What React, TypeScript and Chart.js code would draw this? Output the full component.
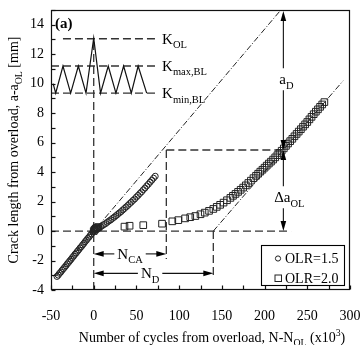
import React, { useEffect, useRef } from 'react';
import { Chart, registerables } from 'chart.js';

Chart.register(...registerables);

const FONT = '"Liberation Serif", "Times New Roman", serif';

// ---- axes ----
const xMin = -50;
const xMax = 300;
const yMin = -4;
const yMax = 15;
const xTickStep = 25;
const xLabelEvery = 50;
const yTickStep = 1;
const yLabelEvery = 2;

const seriesLabels = ['OLR=1.5', 'OLR=2.0'];

// ---- OLR = 1.5 (circles) ----
const olr15X = [
  -43, -41.5, -40, -38.5, -37, -35.5, -34, -32.5, -31, -29.5, -28, -26.5, -25, -23.5, -22,
  -20.5, -19, -17.5, -16, -14.5, -13, -11.5, -10, -8.5, -7, -5.5, -4, -2.5, -1,
  0, 0.5, 1, 1.5,
  2, 4, 6, 8, 10, 12, 14, 16, 18, 20, 22, 24, 26, 28, 30, 32, 34, 36,
  38, 40, 42, 44, 46, 48, 50, 52, 54, 56, 58, 60, 62, 64, 66, 68, 70, 72,
];
const olr15Y = [
  -3.08, -2.99, -2.87, -2.78, -2.66, -2.56, -2.45, -2.35, -2.23, -2.13, -2.02, -1.92, -1.8, -1.7, -1.58,
  -1.49, -1.37, -1.27, -1.15, -1.06, -0.94, -0.84, -0.72, -0.62, -0.5, -0.41, -0.29, -0.19, -0.07,
  0.02, 0.12, 0.2, 0.25,
  0.1, 0.15, 0.21, 0.29, 0.36, 0.44, 0.51, 0.6, 0.69, 0.76, 0.86, 0.94, 1.04, 1.13, 1.23, 1.32, 1.43, 1.53,
  1.64, 1.74, 1.86, 1.96, 2.08, 2.18, 2.31, 2.42, 2.55, 2.66, 2.8, 2.92, 3.06, 3.18, 3.32, 3.45, 3.59, 3.72,
];

// ---- OLR = 2.0 (squares) ----
const olr20X = [
  0, 1, 2, 3, 4, 5.5,
  36, 42, 58, 80, 92, 99,
  107, 113, 119, 125, 130, 135, 140, 144, 148, 152, 156, 160, 163, 166, 169, 172, 175, 178,
  181, 184, 187, 190, 192.5, 195, 197.5, 200, 202.5, 205, 207.5, 210, 212.5, 215, 217.5, 220,
  222.5, 225, 227.5, 230, 232.5, 235, 237.5, 240, 242.5, 245, 247.5, 250, 252.5, 255, 257.5, 260,
  262.5, 265, 267.5, 270,
];
const olr20Y = [
  0.0, 0.08, 0.14, 0.2, 0.24, 0.27,
  0.3, 0.36, 0.4, 0.5, 0.66, 0.74,
  0.86, 0.94, 1.02, 1.14, 1.25, 1.37, 1.5, 1.64, 1.78, 1.93, 2.09, 2.25, 2.39, 2.52, 2.66, 2.8, 2.95, 3.1,
  3.26, 3.42, 3.59, 3.75, 3.89, 4.03, 4.16, 4.3, 4.44, 4.58, 4.71, 4.85, 5.0, 5.15, 5.3, 5.45,
  5.61, 5.78, 5.94, 6.1, 6.26, 6.43, 6.59, 6.75, 6.91, 7.08, 7.24, 7.4, 7.58, 7.75, 7.93, 8.1,
  8.26, 8.43, 8.59, 8.75,
];

// ---- inset loading waveform ----
const waveX = [-47.5, -44.5, -36, -27, -18, -9, 0, 8, 17, 26, 35, 44, 52, 62];
const waveY = [10.0, 9.36, 11.2, 9.36, 11.2, 9.36, 13.1, 9.36, 11.2, 9.36, 11.2, 9.36, 11.2, 9.36];

// ---- reference levels / guide lines ----
const kLevels = [13.05, 11.2, 9.36];
const kLabelMain = ['K', 'K', 'K'];
const kLabelSub = ['OL', 'max,BL', 'min,BL'];
const kOlLineX = [-36, 74];
const kBandLineX = [-50, 74];
const zeroLineX = [-50, 231];
const nOlLineY = [-4, 13.1];
const nCaX = 85;
const nDX = 140;
const crossX = 222;
const crossY = 5.5;
const fit1X = [-45, 219];
const fit1Y = [-3.1, 15];
const fit2X = [140, 292];
const fit2Y = [0, 10.2];

type Seg = [string, number];

function richWidth(ctx: CanvasRenderingContext2D, segs: Seg[], size: number) {
  let w = 0;
  for (const [t, k] of segs) {
    ctx.font = `${k ? size * 0.7 : size}px ${FONT}`;
    w += ctx.measureText(t).width;
  }
  return w;
}

function drawRich(ctx: CanvasRenderingContext2D, segs: Seg[], x: number, y: number, size: number, align: string) {
  const w = richWidth(ctx, segs, size);
  let cx = align === 'left' ? x : align === 'center' ? x - w / 2 : x - w;
  const base = y + size * 0.33;
  ctx.textAlign = 'left';
  ctx.textBaseline = 'alphabetic';
  for (const [t, k] of segs) {
    ctx.font = `${k ? size * 0.7 : size}px ${FONT}`;
    const dy = k === 1 ? size * 0.3 : k === -1 ? -size * 0.42 : 0;
    ctx.fillText(t, cx, base + dy);
    cx += ctx.measureText(t).width;
  }
  return w;
}

function seg(ctx: CanvasRenderingContext2D, x1: number, y1: number, x2: number, y2: number) {
  ctx.beginPath();
  ctx.moveTo(x1, y1);
  ctx.lineTo(x2, y2);
  ctx.stroke();
}

function head(ctx: CanvasRenderingContext2D, x: number, y: number, dir: string) {
  const L = 10;
  const W = 2.8;
  ctx.beginPath();
  ctx.moveTo(x, y);
  if (dir === 'l') { ctx.lineTo(x + L, y - W); ctx.lineTo(x + L, y + W); }
  if (dir === 'r') { ctx.lineTo(x - L, y - W); ctx.lineTo(x - L, y + W); }
  if (dir === 'u') { ctx.lineTo(x - W, y + L); ctx.lineTo(x + W, y + L); }
  if (dir === 'd') { ctx.lineTo(x - W, y - L); ctx.lineTo(x + W, y - L); }
  ctx.closePath();
  ctx.fill();
}

const overlay = {
  id: 'overlay',
  afterDatasetsDraw(chart: any) {
    const { ctx, chartArea: a, scales } = chart;
    const xs = scales.x;
    const ys = scales.y;
    const px = (v: number) => xs.getPixelForValue(v);
    const py = (v: number) => ys.getPixelForValue(v);
    ctx.save();
    ctx.strokeStyle = '#111';
    ctx.fillStyle = '#111';
    ctx.lineWidth = 1.2;

    // frame
    const L = Math.round(a.left) + 0.5;
    const T = Math.round(a.top) + 0.5;
    const R = Math.round(a.right) - 0.5;
    const B = Math.round(a.bottom) - 0.5;
    ctx.strokeRect(L, T, R - L, B - T);

    // inward ticks
    xs.ticks.forEach((t: any) => {
      const x = Math.round(px(t.value)) + 0.5;
      seg(ctx, x, B, x, B - 4);
    });
    ys.ticks.forEach((t: any) => {
      const y = Math.round(py(t.value)) + 0.5;
      seg(ctx, L, y, L + 4, y);
    });

    // K labels
    ctx.fillStyle = '#000';
    kLevels.forEach((lv, i) => {
      drawRich(ctx, [[kLabelMain[i], 0], [kLabelSub[i], 1]], px(80), py(lv), 15, 'left');
    });

    // horizontal arrows
    ctx.lineWidth = 1.1;
    const hArrow = (x1: number, x2: number, y: number, segs: Seg[], cx: number) => {
      const w = richWidth(ctx, segs, 15);
      seg(ctx, x1 + 4, y, cx - w / 2 - 3, y);
      seg(ctx, cx + w / 2 + 3, y, x2 - 4, y);
      head(ctx, x1, y, 'l');
      head(ctx, x2, y, 'r');
      drawRich(ctx, segs, cx, y, 15, 'center');
    };
    hArrow(px(0), px(nCaX), py(-1.55), [['N', 0], ['CA', 1]], px(42.5));
    hArrow(px(0), px(nDX), py(-2.87), [['N', 0], ['D', 1]], px(66));

    // vertical arrows
    const vx = px(crossX);
    const yTop = py(yMax);
    const yCross = py(crossY);
    const yZero = py(0);
    const aDy = py(10.3);
    seg(ctx, vx, yTop + 4, vx, aDy - 11);
    seg(ctx, vx, aDy + 11, vx, yCross - 4);
    head(ctx, vx, yTop + 1, 'u');
    head(ctx, vx, yCross, 'd');
    drawRich(ctx, [['a', 0], ['D', 1]], vx + 3, aDy, 15, 'center');

    const dAy = py(2.3);
    seg(ctx, vx, yCross + 4, vx, dAy - 11);
    seg(ctx, vx, dAy + 11, vx, yZero - 4);
    head(ctx, vx, yCross, 'u');
    head(ctx, vx, yZero, 'd');
    drawRich(ctx, [['\u0394a', 0], ['OL', 1]], vx + 6, dAy, 15, 'center');

    // (a)
    ctx.font = `bold 15px ${FONT}`;
    ctx.textAlign = 'left';
    ctx.textBaseline = 'alphabetic';
    ctx.fillText('(a)', a.left + 4, a.top + 18);

    // legend
    const lx1 = a.right - 89;
    const ly1 = a.bottom - 45;
    ctx.lineWidth = 1.1;
    ctx.strokeStyle = '#000';
    ctx.fillStyle = '#fff';
    ctx.fillRect(lx1, ly1, 83, 40);
    ctx.strokeRect(Math.round(lx1) + 0.5, Math.round(ly1) + 0.5, 83, 40);
    ctx.strokeStyle = '#222';
    ctx.lineWidth = 1;
    ctx.beginPath();
    ctx.arc(lx1 + 17, ly1 + 13.5, 2.6, 0, Math.PI * 2);
    ctx.stroke();
    ctx.strokeRect(lx1 + 14, ly1 + 30, 6.5, 6.5);
    ctx.fillStyle = '#000';
    ctx.font = `14px ${FONT}`;
    ctx.textBaseline = 'middle';
    ctx.fillText(seriesLabels[0], lx1 + 24, ly1 + 14);
    ctx.fillText(seriesLabels[1], lx1 + 24, ly1 + 34);

    // axis titles
    drawRich(ctx, [['Number of cycles from overload, N-N', 0], ['OL', 1], [' (x10', 0], ['3', -1], [')', 0]], 212, 337, 14, 'center');
    ctx.save();
    ctx.translate(13, (a.top + a.bottom) / 2);
    ctx.rotate(-Math.PI / 2);
    drawRich(ctx, [['Crack length from overload, a-a', 0], ['OL', 1], [' [mm]', 0]], 0, 0, 14, 'center');
    ctx.restore();

    ctx.restore();
  },
};

const zip = (xs: number[], ys: number[]) => xs.map((x, i) => ({ x, y: ys[i] }));

const dashed = [8, 4];
const dashDot = [6, 2, 1, 2];

function lineDs(points: { x: number; y: number }[], dash: number[], color = '#333', width = 1.3) {
  return {
    type: 'scatter',
    data: points,
    showLine: true,
    borderColor: color,
    borderWidth: width,
    borderDash: dash,
    pointRadius: 0,
    fill: false,
    tension: 0,
  };
}

export default function App() {
  const ref = useRef<HTMLCanvasElement>(null);
  useEffect(() => {
    if (!ref.current) return;
    const datasets: any[] = [
      {
        label: seriesLabels[0],
        data: zip(olr15X, olr15Y),
        pointStyle: 'circle',
        pointRadius: 3,
        borderWidth: 1,
        borderColor: '#222',
        backgroundColor: 'transparent',
        showLine: false,
      },
      {
        label: seriesLabels[1],
        data: zip(olr20X, olr20Y),
        pointStyle: 'rect',
        pointRadius: 4.7,
        borderWidth: 1,
        borderColor: '#222',
        backgroundColor: 'transparent',
        showLine: false,
      },
      lineDs(zip(waveX, waveY), [], '#111', 1.2),
      lineDs(zip(kOlLineX, [kLevels[0], kLevels[0]]), dashed),
      lineDs(zip(kBandLineX, [kLevels[1], kLevels[1]]), dashed),
      lineDs(zip(kBandLineX, [kLevels[2], kLevels[2]]), dashed),
      lineDs(zip([0, 0], nOlLineY), dashed),
      lineDs(zip(zeroLineX, [0, 0]), dashed),
      lineDs(zip([nCaX, nCaX], [crossY, -1.9]), dashed),
      lineDs(zip([nCaX, crossX], [crossY, crossY]), dashed),
      lineDs(zip([nDX, nDX], [0, -3.2]), dashed),
      lineDs(zip(fit1X, fit1Y), dashDot, '#222', 1),
      lineDs(zip(fit2X, fit2Y), dashDot, '#222', 1),
    ];
    const chart = new Chart(ref.current, {
      type: 'scatter',
      data: { datasets },
      options: {
        animation: false,
        responsive: false,
        maintainAspectRatio: false,
        layout: { padding: { left: 0, right: 12, top: 10, bottom: 0 } },
        plugins: { legend: { display: false }, tooltip: { enabled: false } },
        scales: {
          x: {
            type: 'linear',
            min: xMin,
            max: xMax,
            ticks: {
              stepSize: xTickStep,
              autoSkip: false,
              maxRotation: 0,
              padding: 18,
              color: '#000',
              font: { family: FONT, size: 14 },
              callback: (v: any) => (Number(v) % xLabelEvery === 0 ? String(v) : ''),
            },
            grid: { display: false, drawTicks: false },
            border: { display: false },
            afterFit: (s: any) => { s.height = 55; s.paddingLeft = 0; s.paddingRight = 0; },
          },
          y: {
            type: 'linear',
            min: yMin,
            max: yMax,
            ticks: {
              stepSize: yTickStep,
              autoSkip: false,
              padding: 7,
              color: '#000',
              font: { family: FONT, size: 14 },
              callback: (v: any) => (Number(v) % yLabelEvery === 0 ? String(v) : ''),
            },
            grid: { display: false, drawTicks: false },
            border: { display: false },
            afterFit: (s: any) => { s.width = 51; s.paddingTop = 0; s.paddingBottom = 0; },
          },
        },
      } as any,
      plugins: [overlay as any],
    });
    return () => chart.destroy();
  }, []);
  return (
    <div style={{ position: 'absolute', left: 0, top: 0, width: 362, height: 345, background: '#fff' }}>
      <canvas ref={ref} width={362} height={345} style={{ display: 'block' }} />
    </div>
  );
}
